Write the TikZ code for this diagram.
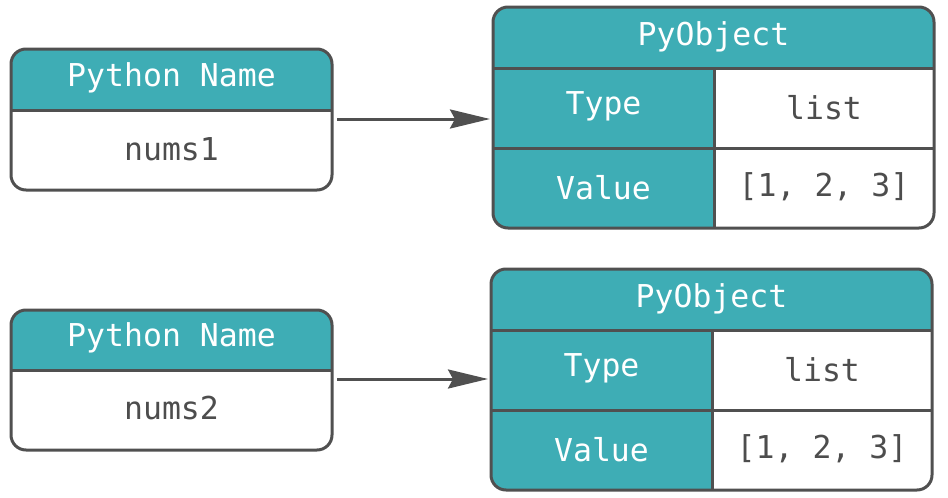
\documentclass[tikz,border=0pt]{standalone}
\usepackage{fontspec}
\setmonofont{DejaVu Sans Mono}
\usetikzlibrary{arrows.meta}
\definecolor{teal1}{RGB}{62,173,181}
\definecolor{edge}{RGB}{80,80,80}
\definecolor{txt}{RGB}{77,77,77}
\tikzset{
  frame/.style={draw=edge, line width=3pt, rounded corners=15pt},
  sep/.style={draw=edge, line width=3pt},
  hd/.style={font=\ttfamily\fontsize{31.5}{34}\selectfont, text=white, anchor=center, inner sep=0pt},
  bd/.style={font=\ttfamily\fontsize{31.5}{34}\selectfont, text=txt, anchor=center, inner sep=0pt},
  conn/.style={draw=edge, line width=3pt, -{Stealth[length=40pt,width=19pt,inset=5pt]}},
}
\begin{document}
\begin{tikzpicture}[x=1pt,y=-1pt]
\useasboundingbox (0,0) rectangle (948,498);
% ---------- first pair ----------
\fill[teal1, rounded corners=15pt] (11,49) -- (11,110) -- (332,110) -- (332,49) -- cycle;
\fill[white, rounded corners=15pt] (11,110) -- (11,190) -- (332,190) -- (332,110) -- cycle;
\fill[teal1] (11,100) rectangle (332,110);
\fill[white] (11,110) rectangle (332,125);
\draw[sep] (11,110) -- (332,110);
\draw[frame] (11,49) rectangle (332,190);
\node[hd] (n1h) at (171.5,78) {Python Name};
\node[bd] (n1v) at (171.5,149) {nums1};
\coordinate (n1e) at (337,119);
% object box 1
\fill[teal1, rounded corners=15pt] (493,7) rectangle (934,68);
\fill[teal1] (493,40) rectangle (934,68);
\fill[teal1, rounded corners=15pt] (493,7) rectangle (714,228);
\fill[teal1] (600,7) rectangle (714,228);
\fill[white, rounded corners=15pt] (714,68) -- (714,228) -- (934,228) -- (934,68) -- cycle;
\fill[white] (714,68) rectangle (934,150);
\draw[sep] (493,68) -- (934,68);
\draw[sep] (493,148) -- (934,148);
\draw[sep] (714,68) -- (714,228);
\draw[frame] (493,7) rectangle (934,228);
\node[hd] (o1h) at (713.5,37) {PyObject};
\node[hd] (o1t) at (603.5,106) {Type};
\node[bd] (o1tv) at (824,108) {list};
\node[hd] (o1v) at (603.5,188) {Value};
\node[bd] (o1vv) at (824,187) {[1, 2, 3]};
\coordinate (o1w) at (490,119);
\draw[conn] (n1e) -- (o1w);
% ---------- second pair ----------
\fill[teal1, rounded corners=15pt] (11,310) -- (11,370) -- (332,370) -- (332,310) -- cycle;
\fill[white, rounded corners=15pt] (11,370) -- (11,450) -- (332,450) -- (332,370) -- cycle;
\fill[teal1] (11,360) rectangle (332,370);
\fill[white] (11,370) rectangle (332,385);
\draw[sep] (11,370) -- (332,370);
\draw[frame] (11,310) rectangle (332,450);
\node[hd] (n2h) at (171.5,338) {Python Name};
\node[bd] (n2v) at (171.5,408) {nums2};
\coordinate (n2e) at (337,379);
% object box 2
\fill[teal1, rounded corners=15pt] (491,269) rectangle (932,330);
\fill[teal1] (491,300) rectangle (932,330);
\fill[teal1, rounded corners=15pt] (491,269) rectangle (712,490);
\fill[teal1] (600,269) rectangle (712,490);
\fill[white, rounded corners=15pt] (712,330) -- (712,490) -- (932,490) -- (932,330) -- cycle;
\fill[white] (712,330) rectangle (932,410);
\draw[sep] (491,330) -- (932,330);
\draw[sep] (491,410) -- (932,410);
\draw[sep] (712,330) -- (712,490);
\draw[frame] (491,269) rectangle (932,490);
\node[hd] (o2h) at (711.5,299) {PyObject};
\node[hd] (o2t) at (601.5,368) {Type};
\node[bd] (o2tv) at (822,370) {list};
\node[hd] (o2v) at (601.5,450) {Value};
\node[bd] (o2vv) at (822,449) {[1, 2, 3]};
\coordinate (o2w) at (488,379);
\draw[conn] (n2e) -- (o2w);
\end{tikzpicture}
\end{document}
